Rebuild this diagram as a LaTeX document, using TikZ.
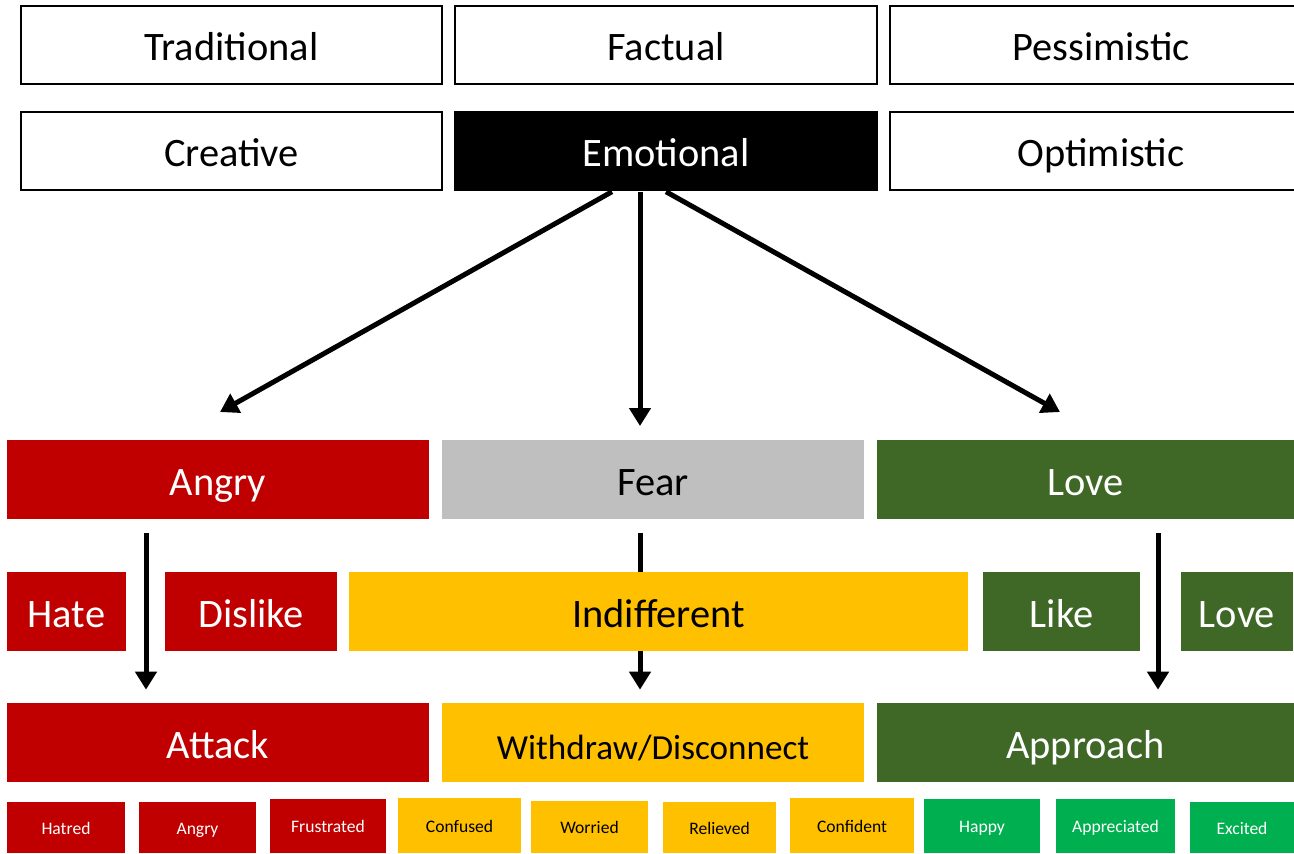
\documentclass[tikz,border=0pt]{standalone}
\usepackage{fontspec}
\setmainfont{Carlito}
\usetikzlibrary{arrows.meta,calc}

\definecolor{angryred}{HTML}{C00000}
\definecolor{feargray}{HTML}{BFBFBF}
\definecolor{lovegreen}{HTML}{3F6827}
\definecolor{midyellow}{HTML}{FFC000}
\definecolor{happygreen}{HTML}{00B050}

\tikzset{
 hat/.style={draw=black, line width=0.8pt, minimum height=1.56cm, inner sep=0pt, text height=0.6cm, text depth=0cm, font=\fontsize{23}{27}\selectfont},
 band/.style={minimum height=1.58cm, inner sep=0pt, text height=0.62cm, text depth=0cm, font=\fontsize{23}{27}\selectfont},
 feel/.style={anchor=south, inner sep=0pt, text height=0.28cm, text depth=0cm, font=\fontsize{10}{12}\selectfont},
 arr/.style={line width=0.1cm, -{Triangle[length=0.36cm,width=0.42cm]}}
}

\begin{document}
\begin{tikzpicture}[x=0.02cm,y=-0.02cm]
\useasboundingbox (0,0) rectangle (1294,853);
\clip (0,0) rectangle (1294,853);

% thinking hats
\node[hat, minimum width=8.42cm] (trad) at (231.5,45) {Traditional};
\node[hat, minimum width=8.44cm] (fact) at (666,45) {Factual};
\node[hat, minimum width=8.44cm] (pess) at (1101,45) {Pessimistic};
\node[hat, minimum width=8.42cm] (crea) at (231.5,151) {Creative};
\node[hat, minimum width=8.44cm, fill=black, text=white] (emo) at (666,151) {Emotional};
\node[hat, minimum width=8.44cm] (opti) at (1101,151) {Optimistic};

% emotions
\node[band, minimum width=8.44cm, fill=angryred, text=white] (angry) at (218,479.5) {Angry};
\node[band, minimum width=8.44cm, fill=feargray] (fear) at (653,479.5) {Fear};
\node[band, minimum width=8.34cm, fill=lovegreen, text=white] (love) at (1085.5,479.5) {Love};

% behaviours
\node[band, minimum width=8.44cm, fill=angryred, text=white] (attack) at (218,742.5) {Attack};
\node[band, minimum width=8.44cm, fill=midyellow, text height=0.68cm, font=\fontsize{20}{24}\selectfont] (withdraw) at (653,742.5) {Withdraw/Disconnect};
\node[band, minimum width=8.34cm, fill=lovegreen, text=white] (approach) at (1085.5,742.5) {Approach};

% arrows
\coordinate (tipA) at (220,412);
\coordinate (tipF) at (640,426);
\coordinate (tipL) at (1060,412);
\draw[arr] ($(emo.south)+(-54,1)$) -- (tipA);
\draw[arr] ($(emo.south)+(-26,1)$) -- (tipF);
\draw[arr] ($(emo.south)+(0,1)$) -- (tipL);

\draw[arr] ($(angry.south)+(-72,14)$) -- ($(attack.north)+(-72,-13)$);
\draw[arr] ($(fear.south)+(-13,14)$) -- ($(withdraw.north)+(-13,-13)$);
\draw[arr] ($(love.south)+(72.5,14)$) -- ($(approach.north)+(72.5,-13)$);

% attitudes
\node[band, minimum width=2.38cm, fill=angryred, text=white] (hate) at (66.5,611.5) {Hate};
\node[band, minimum width=3.44cm, fill=angryred, text=white] (dislike) at (251,611.5) {Dislike};
\node[band, minimum width=12.38cm, fill=midyellow] (indiff) at (658.5,611.5) {Indifferent};
\node[band, minimum width=3.14cm, fill=lovegreen, text=white] (like) at (1061.5,611.5) {Like};
\node[band, minimum width=2.24cm, fill=lovegreen, text=white] (love2) at (1237,611.5) {Love};

% feelings
\foreach \xa/\xb/\top/\word/\col/\txt [count=\i] in {
 7/125/802/Hatred/angryred/white,
 139/256/802/Angry/angryred/white,
 270/386/799/Frustrated/angryred/white,
 398/521/798/Confused/midyellow/black,
 531/648/801/Worried/midyellow/black,
 663/776/802/Relieved/midyellow/black,
 790/914/798/Confident/midyellow/black,
 924/1040/799/Happy/happygreen/white,
 1056/1175/799/Appreciated/happygreen/white,
 1190/1294/802/Excited/happygreen/white}
{
 \pgfmathsetmacro{\cx}{(\xa+\xb)/2}
 \pgfmathsetmacro{\bw}{(\xb-\xa)*0.02}
 \pgfmathsetmacro{\bh}{(853-\top)*0.02}
 \node[feel, fill=\col, text=\txt, minimum width=\bw cm, minimum height=\bh cm] (f\i) at (\cx,853) {\word};
}

\end{tikzpicture}
\end{document}
